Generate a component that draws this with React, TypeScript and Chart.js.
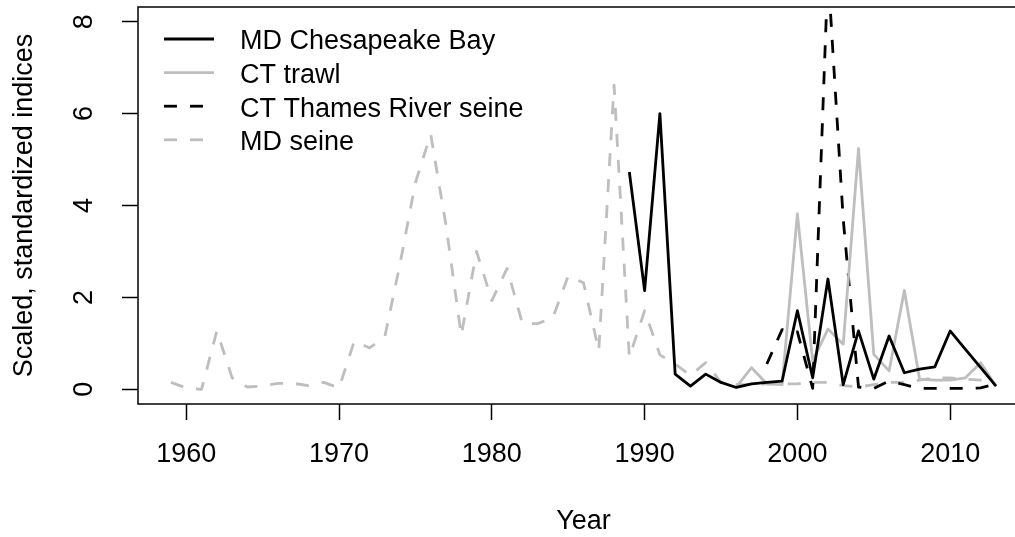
import React, { useEffect, useRef } from "react";
import { Chart, registerables } from "chart.js";

Chart.register(...registerables);

const FONT = '"Liberation Sans", Arial, Helvetica, sans-serif';
const FONT_SIZE = 27;

// ---- Data ----
const seriesNames = ["MD Chesapeake Bay", "CT trawl", "CT Thames River seine", "MD seine"];

const mdChesStart = 1989;
const mdChesValues = [
  4.73, 2.15, 6.0, 0.33, 0.07, 0.33, 0.15, 0.04, 0.12, 0.15, 0.18, 1.71, 0.25,
  2.4, 0.1, 1.27, 0.22, 1.16, 0.36, 0.44, 0.49, 1.27, 0.87, 0.47, 0.07,
];

const ctTrawlStart = 1996;
const ctTrawlValues = [
  0.05, 0.47, 0.12, 0.1, 3.82, 0.62, 1.31, 0.98, 5.24, 0.76, 0.4, 2.15, 0.22,
  0.2, 0.2, 0.25, 0.58, 0.07,
];

const ctThamesStart = 1998;
const ctThamesValues = [
  0.55, 1.3, 1.25, 0.02, 9.1, 3.7, 0.05, 0.02, 0.18, 0.1, 0.02, 0.02, 0.02,
  0.02, 0.03, 0.12,
];

const mdSeineStart = 1959;
const mdSeineValues = [
  0.15, 0.03, 0.0, 1.27, 0.25, 0.05, 0.07, 0.13, 0.13, 0.08, 0.15, 0.03, 1.05,
  0.9, 1.15, 2.75, 4.5, 5.55, 3.57, 1.17, 3.0, 1.93, 2.63, 1.43, 1.43, 1.56,
  2.47, 2.32, 0.84, 6.62, 0.7, 1.71, 0.75, 0.55, 0.3, 0.58, 0.15, 0.1, 0.1,
  0.12, 0.12, 0.12, 0.15, 0.15, 0.08, 0.05, 0.1, 0.15, 0.15, 0.2, 0.25, 0.25,
  0.22, 0.2, 0.1,
];

const xTickValues = [1960, 1970, 1980, 1990, 2000, 2010];
const yTickValues = [0, 2, 4, 6, 8];
const xRange = [1956.84, 2015.16];
const yRange = [-0.32, 8.32];

const xTitle = "Year";
const yTitle = "Scaled, standardized indices";

function toPoints(start: number, values: number[]) {
  return values.map((v, i) => ({ x: start + i, y: v }));
}

const legendPlugin = {
  id: "rLegend",
  afterDraw(chart: any) {
    const { ctx, chartArea } = chart;
    ctx.save();
    chart.data.datasets.forEach((ds: any, i: number) => {
      const yLine = chartArea.top + 32 + i * 33.6;
      ctx.beginPath();
      ctx.strokeStyle = ds.borderColor;
      ctx.lineWidth = ds.borderWidth;
      ctx.setLineDash(ds.borderDash || []);
      ctx.moveTo(chartArea.left + 26, yLine);
      ctx.lineTo(chartArea.left + 76, yLine);
      ctx.stroke();
      ctx.setLineDash([]);
      ctx.fillStyle = "#000";
      ctx.font = `${FONT_SIZE}px ${FONT}`;
      ctx.textBaseline = "middle";
      ctx.textAlign = "left";
      ctx.fillText(ds.label, chartArea.left + 102, yLine + 3);
    });
    ctx.restore();
  },
};

const boxPlugin = {
  id: "rBox",
  afterDraw(chart: any) {
    const { ctx, chartArea } = chart;
    ctx.save();
    ctx.strokeStyle = "#000";
    ctx.lineWidth = 1.5;
    ctx.strokeRect(chartArea.left, chartArea.top, chartArea.right - chartArea.left, chartArea.bottom - chartArea.top);
    ctx.restore();
  },
};

function zeroPad(s: any) {
  s.paddingTop = 0;
  s.paddingBottom = 0;
  s.paddingLeft = 0;
  s.paddingRight = 0;
}

export default function App() {
  const ref = useRef<HTMLCanvasElement | null>(null);

  useEffect(() => {
    if (!ref.current) return;
    const GRAY = "#BEBEBE";
    const LW = 2.8;
    const DASH = [13, 13];
    const font = { family: FONT, size: FONT_SIZE };
    const chart = new Chart(ref.current, {
      type: "line",
      data: {
        datasets: [
          {
            label: seriesNames[0],
            data: toPoints(mdChesStart, mdChesValues),
            borderColor: "#000",
            borderWidth: LW,
          },
          {
            label: seriesNames[1],
            data: toPoints(ctTrawlStart, ctTrawlValues),
            borderColor: GRAY,
            borderWidth: LW,
          },
          {
            label: seriesNames[2],
            data: toPoints(ctThamesStart, ctThamesValues),
            borderColor: "#000",
            borderWidth: LW,
            borderDash: DASH,
          },
          {
            label: seriesNames[3],
            data: toPoints(mdSeineStart, mdSeineValues),
            borderColor: GRAY,
            borderWidth: LW,
            borderDash: DASH,
          },
        ].map((d) => ({
          ...d,
          pointRadius: 0,
          pointHoverRadius: 0,
          tension: 0,
          fill: false,
          borderJoinStyle: "round" as const,
          borderCapStyle: "butt" as const,
        })),
      },
      plugins: [boxPlugin, legendPlugin],
      options: {
        animation: false,
        responsive: false,
        devicePixelRatio: 1,
        layout: { padding: { top: 7, right: 3, left: 0, bottom: 0 } },
        plugins: {
          legend: { display: false },
          tooltip: { enabled: false },
        },
        scales: {
          x: {
            type: "linear",
            position: "bottom",
            min: xRange[0],
            max: xRange[1],
            afterBuildTicks: (s: any) => {
              s.ticks = xTickValues.map((v) => ({ value: v }));
            },
            afterFit: (s: any) => {
              s.height = 133;
              zeroPad(s);
            },
            grid: {
              display: true,
              drawOnChartArea: false,
              drawTicks: true,
              tickLength: 16,
              tickColor: "#000",
              tickWidth: 1.5,
            },
            border: { display: false },
            ticks: {
              autoSkip: false,
              maxRotation: 0,
              minRotation: 0,
              padding: 18,
              color: "#000",
              font,
              callback: (v: any) => String(v),
            },
            title: {
              display: true,
              text: xTitle,
              color: "#000",
              font,
              padding: { top: 0, bottom: -1 },
            },
          },
          y: {
            type: "linear",
            position: "left",
            min: yRange[0],
            max: yRange[1],
            afterBuildTicks: (s: any) => {
              s.ticks = yTickValues.map((v) => ({ value: v }));
            },
            afterFit: (s: any) => {
              s.width = 138;
              zeroPad(s);
            },
            grid: {
              display: true,
              drawOnChartArea: false,
              drawTicks: true,
              tickLength: 16,
              tickColor: "#000",
              tickWidth: 1.5,
            },
            border: { display: false },
            ticks: {
              autoSkip: false,
              minRotation: 90,
              maxRotation: 90,
              crossAlign: "center",
              padding: 30,
              color: "#000",
              font,
              callback: (v: any) => String(v),
            },
            title: {
              display: true,
              text: yTitle,
              color: "#000",
              font,
              padding: { top: 8, bottom: 0 },
            },
          },
        },
      },
    } as any);
    return () => chart.destroy();
  }, []);

  return (
    <div
      style={{
        position: "fixed",
        left: 0,
        top: 0,
        width: "1015px",
        height: "537px",
        overflow: "hidden",
        background: "#fff",
      }}
    >
      <canvas
        ref={ref}
        width={1032}
        height={537}
        style={{ display: "block", width: "1032px", height: "537px" }}
      />
    </div>
  );
}
